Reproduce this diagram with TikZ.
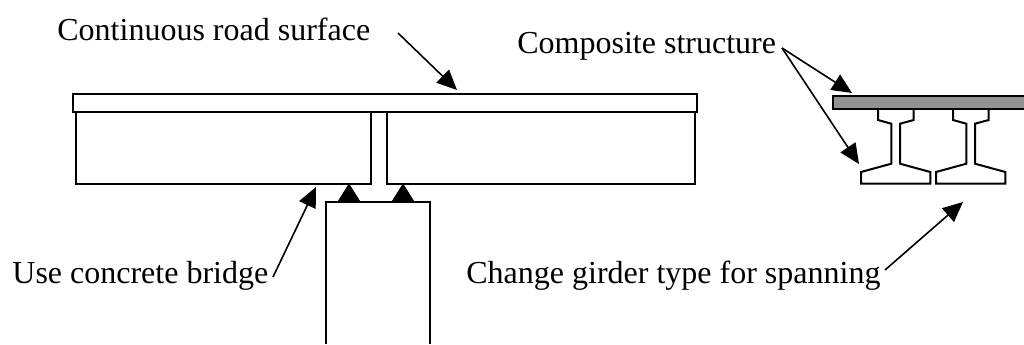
\documentclass[tikz,border=0pt]{standalone}
\usepackage{fontspec}
\setmainfont{Liberation Serif}
\usetikzlibrary{arrows.meta}
\tikzset{
  member/.style={draw,line width=1pt},
  seat/.style={draw,fill=black,line width=0.3pt},
  label/.style={inner sep=0pt,anchor=base west,font=\fontsize{16}{18}\selectfont},
  pointer/.style={draw,line width=0.8pt,-{Triangle[length=10pt,width=9pt]}}
}
\begin{document}
\begin{tikzpicture}[x=0.5pt,y=-0.5pt]
  \useasboundingbox (0,0) rectangle (1024,344);

  % bridge
  \node[member,inner sep=0pt,minimum width=312pt,minimum height=9pt] (deck) at (385,103) {};
  \node[member,inner sep=0pt,minimum width=147.5pt,minimum height=36pt] (leftspan) at (223.5,148) {};
  \node[member,inner sep=0pt,minimum width=154pt,minimum height=36pt] (rightspan) at (540.5,148) {};
  \draw[member] (325.5,344) -- (325.5,201.5) -- (430,201.5) -- (430,344);
  \draw[seat] (349,184) -- (338,201.5) -- (360,201.5) -- cycle;
  \draw[seat] (403,184) -- (392,201.5) -- (414,201.5) -- cycle;

  % composite section
  \fill[gray!85] (833,96) rectangle (1024,109);
  \draw[member] (1024,96) -- (833,96) -- (833,109) -- (1024,109);
  \foreach \offs in {0,75} {
    \draw[member,xshift=\offs*0.5pt] (878,109) -- (878,120) -- (891.3,123.7) -- (891.3,163.7)
      -- (861,172) -- (861,183.7) -- (930.3,183.7) -- (930.3,172) -- (900,163.7)
      -- (900,123.7) -- (913.7,120) -- (913.7,109);
  }

  % labels
  \node[label] (roadlabel) at (57,40) {Continuous road surface};
  \node[label] (complabel) at (517,53) {Composite structure};
  \node[label] (uselabel) at (12,283) {Use concrete bridge};
  \node[label] (changelabel) at (466,283) {Change girder type for spanning};

  \coordinate (roadstart) at (398,33);
  \coordinate (roadtip) at (457,90);
  \coordinate (compstart) at (782,48);
  \coordinate (comptipA) at (852,93);
  \coordinate (comptipB) at (859,164);
  \coordinate (usestart) at (273,277);
  \coordinate (usetip) at (316,187);
  \coordinate (changestart) at (885,270);
  \coordinate (changetip) at (963,202);

  \draw[pointer] (roadstart) -- (roadtip);
  \draw[pointer] (compstart) -- (comptipA);
  \draw[pointer] (compstart) -- (comptipB);
  \draw[pointer] (usestart) -- (usetip);
  \draw[pointer] (changestart) -- (changetip);
\end{tikzpicture}
\end{document}
